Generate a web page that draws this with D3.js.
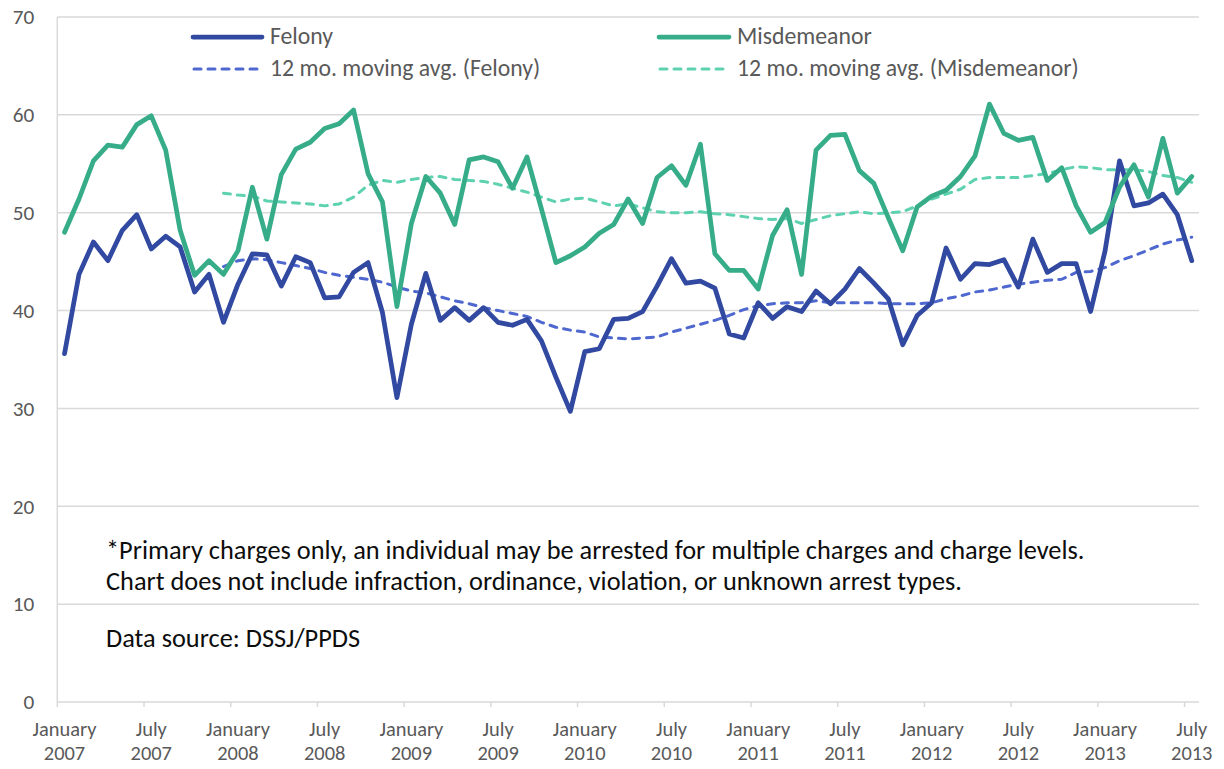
<!DOCTYPE html>
<html>
<head>
<meta charset="utf-8">
<script src="https://cdn.jsdelivr.net/npm/d3@7"></script>
<style>
  html, body { margin: 0; padding: 0; background: #ffffff; }
  svg { display: block; }
  text { font-family: Calibri, Carlito, Lato, "Noto Sans", sans-serif; fill: #595959; }
  text.nt { fill: #0d0d0d; }
</style>
</head>
<body>
<svg id="chart" width="1224" height="769"></svg>
<script>
// ---------------- data ----------------
const months = d3.range(79); // January 2007 .. July 2013, monthly
const tickLabels = [
  ["January","2007"],["July","2007"],["January","2008"],["July","2008"],
  ["January","2009"],["July","2009"],["January","2010"],["July","2010"],
  ["January","2011"],["July","2011"],["January","2012"],["July","2012"],
  ["January","2013"],["July","2013"]
];
const yTicks = [0,10,20,30,40,50,60,70];

const felony = [
  35.6,43.7,47.0,45.1,48.2,49.8,46.3,47.6,46.5,41.9,
  43.7,38.8,42.7,45.8,45.7,42.5,45.5,44.9,41.3,41.4,
  43.9,44.9,39.8,31.1,38.6,43.8,39.0,40.3,39.0,40.3,
  38.8,38.5,39.1,36.9,33.2,29.7,35.8,36.1,39.1,39.2,
  39.9,42.5,45.3,42.8,43.0,42.3,37.6,37.2,40.8,39.2,
  40.4,39.9,42.0,40.7,42.2,44.3,42.8,41.2,36.5,39.5,
  40.8,46.4,43.2,44.8,44.7,45.2,42.4,47.3,43.9,44.8,
  44.8,39.9,46.1,55.3,50.7,51.0,51.9,49.8,45.1
];
const misdemeanor = [
  48.0,51.4,55.3,56.9,56.7,59.0,59.9,56.4,48.2,43.6,
  45.1,43.7,46.1,52.6,47.3,53.9,56.5,57.2,58.6,59.1,
  60.5,54.0,51.1,40.4,48.9,53.7,52.0,48.8,55.4,55.7,
  55.2,52.5,55.7,50.4,44.9,45.6,46.5,47.9,48.8,51.4,
  48.9,53.6,54.8,52.8,57.0,45.8,44.1,44.1,42.2,47.7,
  50.3,43.7,56.4,57.9,58.0,54.3,53.0,49.5,46.1,50.6,
  51.7,52.3,53.7,55.8,61.1,58.1,57.4,57.7,53.3,54.6,
  50.7,48.0,49.0,52.6,54.9,51.6,57.6,52.0,53.7
];
const felonyAvg = [
  null,null,null,null,null,null,null,null,null,null,
  null,44.5,45.1,45.3,45.2,44.9,44.6,44.3,43.9,43.6,
  43.4,43.2,42.9,42.4,42.0,41.8,41.4,41.0,40.7,40.3,
  40.0,39.7,39.4,38.8,38.3,38.0,37.8,37.3,37.2,37.1,
  37.2,37.3,37.8,38.2,38.6,39.0,39.5,40.1,40.5,40.7,
  40.8,40.8,41.0,40.8,40.8,40.8,40.8,40.7,40.7,40.7,
  40.8,41.2,41.5,41.9,42.1,42.4,42.7,42.9,43.1,43.2,
  43.9,44.0,44.4,45.1,45.6,46.2,46.8,47.2,47.5
];
const misdemeanorAvg = [
  null,null,null,null,null,null,null,null,null,null,
  null,52.0,51.8,51.7,51.2,51.1,51.0,50.9,50.7,50.9,
  51.6,52.8,53.3,53.1,53.4,53.6,53.7,53.4,53.3,53.2,
  52.9,52.5,52.1,51.6,51.1,51.4,51.5,51.1,50.7,50.9,
  50.5,50.1,50.0,50.0,50.1,49.9,49.8,49.6,49.4,49.3,
  49.4,48.9,49.3,49.7,49.9,50.1,49.9,50.0,50.1,50.7,
  51.4,51.9,52.4,53.4,53.6,53.6,53.6,53.8,54.0,54.4,
  54.7,54.6,54.4,54.4,54.4,54.2,53.8,53.6,53.1
];
const seriesNames = ["Felony","Misdemeanor","12 mo. moving avg. (Felony)","12 mo. moving avg. (Misdemeanor)"];
const noteLines = [
  "*Primary charges only, an individual may be arrested for multiple charges and charge levels.",
  "Chart does not include infraction, ordinance, violation, or unknown arrest types.",
  "Data source: DSSJ/PPDS"
];

// ---------------- layout ----------------
const C = {
  fel: "#3149a0", mis: "#36ad88", felAvg: "#4f68cf", misAvg: "#5ed2b0",
  grid: "#d9d9d9", text: "#595959"
};
const svg = d3.select("#chart");
const plot = { left: 57.3, right: 1199, top: 17, bottom: 702 };

const x = d3.scaleBand().domain(months).range([plot.left, plot.right]).padding(0);
const xc = i => x(i) + x.bandwidth() / 2;
const y = d3.scaleLinear().domain([0, 70]).range([plot.bottom, plot.top]);

// fit font size so a sample text gets a target width
function fitSize(sel, target) {
  const w = sel.node().getComputedTextLength();
  const fs = parseFloat(sel.style("font-size"));
  return fs * target / w;
}

// gridlines
svg.append("g").selectAll("line").data(yTicks.filter(d => d > 0)).join("line")
  .attr("x1", plot.left).attr("x2", plot.right)
  .attr("y1", d => y(d)).attr("y2", d => y(d))
  .attr("stroke", C.grid).attr("stroke-width", 1.5);

// left axis line
svg.append("line")
  .attr("x1", plot.left).attr("x2", plot.left)
  .attr("y1", y(70)).attr("y2", y(0))
  .attr("stroke", C.grid).attr("stroke-width", 1.5);

// y axis labels
const yAxis = svg.append("g").attr("transform", `translate(${plot.left},0)`)
  .call(d3.axisLeft(y).tickValues(yTicks).tickSize(0).tickPadding(23));
yAxis.select(".domain").remove();
yAxis.selectAll("text").attr("font-family", null).style("font-size", "20px").attr("fill", C.text);
{
  const t = yAxis.selectAll("text").filter(d => d === 70);
  const fs = fitSize(t, 21.5);
  yAxis.selectAll("text").style("font-size", fs + "px");
}

// x axis
const tickIdx = d3.range(0, 79, 6);
const xAxisG = svg.append("g").attr("transform", `translate(0,${plot.bottom})`);
xAxisG.append("line").attr("x1", plot.left).attr("x2", plot.right)
  .attr("y1", 0).attr("y2", 0).attr("stroke", C.grid).attr("stroke-width", 1.5);
xAxisG.selectAll("line.tk").data(tickIdx).join("line").attr("class", "tk")
  .attr("x1", d => x(d)).attr("x2", d => x(d)).attr("y1", 0).attr("y2", 5)
  .attr("stroke", C.grid).attr("stroke-width", 1.5);
const xl = xAxisG.selectAll("text.xl").data(tickLabels).join("text").attr("class", "xl")
  .attr("text-anchor", "middle")
  .attr("transform", (d, i) => `translate(${xc(i * 6)},0)`)
  .style("font-size", "18px");
xl.append("tspan").attr("x", 0).attr("y", 34).text(d => d[0]);
xl.append("tspan").attr("x", 0).attr("y", 58).text(d => d[1]);
{
  const t = xAxisG.select("text.xl tspan");
  const w = t.node().getComputedTextLength();
  xl.style("font-size", (18 * 64 / w) + "px");
}

// lines
const line = d3.line().defined(d => d != null).x((d, i) => xc(i)).y(d => y(d));
function drawLine(data, color, width, dash) {
  const p = svg.append("path").datum(data)
    .attr("fill", "none").attr("stroke", color).attr("stroke-width", width)
    .attr("stroke-linejoin", "round").attr("stroke-linecap", "round")
    .attr("d", line);
  if (dash) p.attr("stroke-dasharray", dash);
  return p;
}
drawLine(felonyAvg, C.felAvg, 3, "7,7");
drawLine(misdemeanorAvg, C.misAvg, 3, "7,7");
drawLine(felony, C.fel, 4.75);
drawLine(misdemeanor, C.mis, 4.75);

// legend
const legendItems = [
  { name: seriesNames[0], color: C.fel, w: 4.75, dash: null, x1: 193, x2: 262, tx: 270, y: 37 },
  { name: seriesNames[1], color: C.mis, w: 4.75, dash: null, x1: 659, x2: 729, tx: 737, y: 37 },
  { name: seriesNames[2], color: C.felAvg, w: 3, dash: "7,7", x1: 194, x2: 262, tx: 270, y: 69 },
  { name: seriesNames[3], color: C.misAvg, w: 3, dash: "7,7", x1: 660, x2: 729, tx: 737, y: 69 }
];
const lg = svg.append("g");
legendItems.forEach(it => {
  const l = lg.append("line").attr("x1", it.x1).attr("x2", it.x2).attr("y1", it.y).attr("y2", it.y)
    .attr("stroke", it.color).attr("stroke-width", it.w).attr("stroke-linecap", "round");
  if (it.dash) l.attr("stroke-dasharray", it.dash);
  lg.append("text").attr("class", "lt").attr("x", it.tx).attr("y", it.y + 7)
    .style("font-size", "20px").text(it.name);
});
{
  const last = d3.select(lg.selectAll("text.lt").nodes()[3]);
  const fs = fitSize(last, 342);
  lg.selectAll("text.lt").style("font-size", fs + "px");
}

// notes
const notes = svg.append("g");
const noteY = [559, 590, 647];
noteLines.forEach((s, i) => {
  notes.append("text").attr("class", "nt").attr("x", 106).attr("y", noteY[i])
    .style("font-size", "22px").text(s);
});
{
  const first = d3.select(notes.selectAll("text.nt").nodes()[0]);
  const fs = fitSize(first, 979);
  notes.selectAll("text.nt").style("font-size", fs + "px");
}
</script>
</body>
</html>
